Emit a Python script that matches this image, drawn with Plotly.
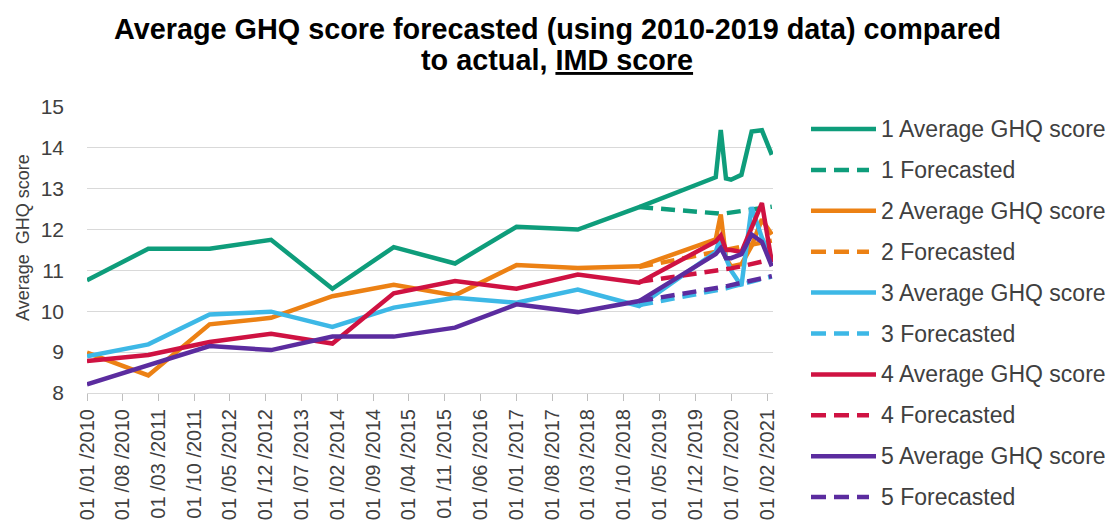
import plotly.graph_objects as go
import pandas as pd

# ---------------- data ----------------
dates_actual = ["2010-01-01", "2011-01-01", "2012-01-01", "2013-01-01", "2014-01-01",
                "2015-01-01", "2016-01-01", "2017-01-01", "2018-01-01", "2019-01-01",
                "2020-04-01", "2020-05-01", "2020-06-01", "2020-07-01", "2020-09-01",
                "2020-11-01", "2021-01-01", "2021-03-01"]
dates_forecast = ["2019-01-01", "2020-04-01", "2020-05-01", "2020-06-01", "2020-07-01",
                  "2020-09-01", "2020-11-01", "2021-01-01", "2021-03-01"]

imd1_actual = [10.76, 11.53, 11.53, 11.75, 10.55, 11.57, 11.17, 12.07, 12.00, 12.55,
               13.28, 14.44, 13.25, 13.22, 13.34, 14.40, 14.43, 13.83]
imd2_actual = [8.99, 8.43, 9.68, 9.84, 10.37, 10.65, 10.39, 11.13, 11.06, 11.10,
               11.76, 12.37, 11.30, 11.10, 11.15, 11.60, 12.25, 11.88]
imd3_actual = [8.90, 9.19, 9.92, 9.99, 9.62, 10.09, 10.33, 10.21, 10.53, 10.13,
               11.45, 11.85, 11.30, 11.00, 10.62, 12.55, 11.80, 11.30]
imd4_actual = [8.78, 8.93, 9.25, 9.45, 9.21, 10.44, 10.74, 10.55, 10.90, 10.70,
               11.71, 11.85, 11.50, 11.50, 11.45, 12.05, 12.65, 11.20]
imd5_actual = [8.21, 8.68, 9.15, 9.05, 9.38, 9.38, 9.60, 10.17, 9.98, 10.25,
               11.40, 11.55, 11.30, 11.30, 11.40, 11.88, 11.70, 11.10]

imd1_forecast = [12.55, 12.38, 12.39, 12.40, 12.42, 12.45, 12.49, 12.53, 12.56]
imd2_forecast = [11.08, 11.45, 11.49, 11.52, 11.55, 11.60, 11.65, 11.70, 11.73]
imd3_forecast = [10.15, 10.50, 10.53, 10.56, 10.60, 10.66, 10.72, 10.80, 10.85]
imd4_forecast = [10.72, 10.98, 11.00, 11.03, 11.05, 11.10, 11.15, 11.22, 11.27]
imd5_forecast = [10.25, 10.55, 10.58, 10.61, 10.64, 10.70, 10.76, 10.82, 10.86]

groups = ["1", "2", "3", "4", "5"]
actual_series = [imd1_actual, imd2_actual, imd3_actual, imd4_actual, imd5_actual]
forecast_series = [imd1_forecast, imd2_forecast, imd3_forecast, imd4_forecast, imd5_forecast]
colors = ["#0E9D7B", "#EC8114", "#3DB8E6", "#CF1242", "#5B2C9F"]

title_line1 = "Average GHQ score forecasted (using 2010-2019 data) compared"
title_line2 = "to actual, <u>IMD score</u>"
y_title = "Average  GHQ score"

y_ticks = [8, 9, 10, 11, 12, 13, 14, 15]
x_tick_dates = pd.date_range("2010-01-01", "2021-02-01", freq="7MS")
x_tick_text = [d.strftime("%d /%m /%Y") for d in x_tick_dates]

FONT = "Liberation Sans, Arial, sans-serif"
DASH = "14px,8px"
LW = 4.5

# ---------------- figure ----------------
fig = go.Figure()
for g, act, fc, col in zip(groups, actual_series, forecast_series, colors):
    fig.add_trace(go.Scatter(x=pd.to_datetime(dates_actual), y=act, mode="lines",
                             name=f"{g} Average GHQ score",
                             line=dict(color=col, width=LW), showlegend=False))
    fig.add_trace(go.Scatter(x=pd.to_datetime(dates_forecast), y=fc, mode="lines",
                             name=f"{g} Forecasted",
                             line=dict(color=col, width=LW, dash=DASH), showlegend=False))

W, H = 1119, 532
ML, MR, MT, MB = 87, 346, 107, 139
plot_w = W - ML - MR
plot_h = H - MT - MB


def px_to_paper_x(px):
    return (px - ML) / plot_w


def px_to_paper_y(py):
    return (H - MB - py) / plot_h


shapes = []
annotations = []

# titles
annotations.append(dict(xref="paper", yref="paper", x=px_to_paper_x(557), y=px_to_paper_y(29),
                        xanchor="center", yanchor="middle", showarrow=False,
                        text=f"<b>{title_line1}</b>",
                        font=dict(family=FONT, size=28.8, color="#000000")))
annotations.append(dict(xref="paper", yref="paper", x=px_to_paper_x(557), y=px_to_paper_y(60),
                        xanchor="center", yanchor="middle", showarrow=False,
                        text=f"<b>{title_line2}</b>",
                        font=dict(family=FONT, size=28.8, color="#000000")))
annotations.append(dict(xref="paper", yref="paper", x=px_to_paper_x(23), y=px_to_paper_y(238),
                        xanchor="center", yanchor="middle", showarrow=False, textangle=-90,
                        text=y_title, font=dict(family=FONT, size=18, color="#404040")))

# custom legend (long line samples like the original)
legend_items = []
for g, col in zip(groups, colors):
    legend_items.append((f"{g} Average GHQ score", col, "solid"))
    legend_items.append((f"{g} Forecasted", col, "dash"))

row0, row_step = 129, 40.9
for i, (label, col, style) in enumerate(legend_items):
    yc = row0 + i * row_step
    x_end = 876 if style == "solid" else 869
    shapes.append(dict(type="line", xref="paper", yref="paper",
                       x0=px_to_paper_x(811), x1=px_to_paper_x(x_end),
                       y0=px_to_paper_y(yc), y1=px_to_paper_y(yc),
                       line=dict(color=col, width=LW,
                                 dash=None if style == "solid" else "15px,8px")))
    annotations.append(dict(xref="paper", yref="paper", x=px_to_paper_x(879),
                            y=px_to_paper_y(yc), xanchor="left", yanchor="middle",
                            text=label, showarrow=False,
                            font=dict(family=FONT, size=23, color="#404040")))

fig.update_layout(
    width=W, height=H,
    margin=dict(l=ML, r=MR, t=MT, b=MB, autoexpand=False),
    paper_bgcolor="white", plot_bgcolor="white",
    font=dict(family=FONT, color="#595959"),
    shapes=shapes,
    annotations=annotations,
    showlegend=False,
)

fig.update_xaxes(
    type="date", automargin=False,
    range=["2010-01-01", "2021-03-08"],
    tickvals=x_tick_dates, ticktext=x_tick_text, tickangle=-90,
    tickfont=dict(family=FONT, size=20, color="#404040"),
    ticks="outside", ticklen=7, tickcolor="#BFBFBF", tickwidth=1,
    showline=True, linecolor="#D9D9D9", linewidth=1,
    showgrid=False, zeroline=False,
)
fig.update_yaxes(
    range=[8, 15], tickvals=y_ticks, automargin=False,
    tickfont=dict(family=FONT, size=21, color="#404040"),
    showgrid=True, gridcolor="#D9D9D9", gridwidth=1,
    showline=False, zeroline=False, ticks="", ticklabelstandoff=22,
)

fig.write_html("out.html",
               config={"displayModeBar": False},
               post_script="document.body.style.margin='0';document.body.style.padding='0';"
                           "document.body.style.overflow='hidden';")
